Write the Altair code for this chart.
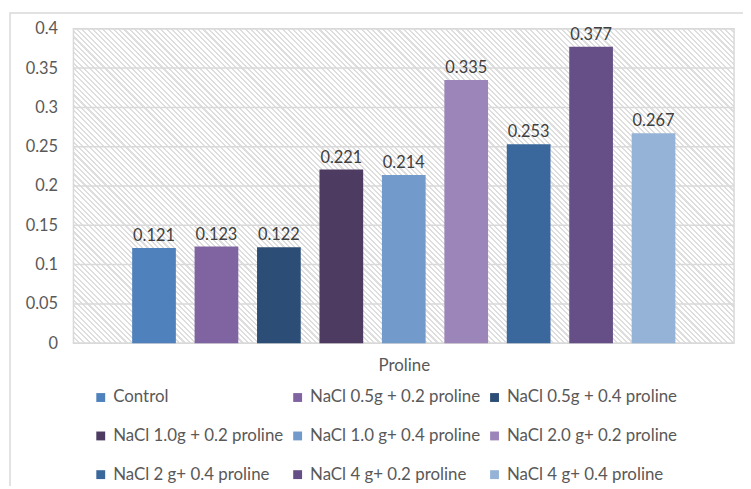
import altair as alt
import pandas as pd

series = [
    "Control",
    "NaCl 0.5g + 0.2 proline",
    "NaCl 0.5g + 0.4 proline",
    "NaCl 1.0g + 0.2 proline",
    "NaCl 1.0 g+ 0.4 proline",
    "NaCl 2.0 g+ 0.2 proline",
    "NaCl 2 g+ 0.4 proline",
    "NaCl 4 g+ 0.2 proline",
    "NaCl 4 g+ 0.4 proline",
]
values = [0.121, 0.123, 0.122, 0.221, 0.214, 0.335, 0.253, 0.377, 0.267]
colors = ["#4f81bd", "#8064a2", "#2c4d75", "#4d3b62", "#729aca",
          "#9c85b8", "#3a679c", "#664e86", "#95b3d7"]
y_ticks = [0, 0.05, 0.1, 0.15, 0.2, 0.25, 0.3, 0.35, 0.4]
category = "Proline"

W, H = 666, 317
FONT = "Lato"
GREY = "#d9d9d9"

df = pd.DataFrame({"series": series, "value": values})
grid_df = pd.DataFrame({"value": y_ticks})
one = pd.DataFrame({"k": [0]})

# diagonal hatch built from a striped linear gradient
N = 185
f = 0.4
hatch_col = "#dedede"
stops = []
for i in range(N):
    a = i / N
    b = (i + f) / N
    c = (i + 1) / N
    stops += [alt.GradientStop(offset=a, color=hatch_col),
              alt.GradientStop(offset=b, color=hatch_col),
              alt.GradientStop(offset=b, color="#ffffff"),
              alt.GradientStop(offset=c, color="#ffffff")]
r = H / W
t = (1 + r) / (1 + r * r)
hatch_grad = alt.LinearGradient(gradient="linear", stops=stops,
                                x1=0, y1=1, x2=t, y2=1 - r * t)

y_enc = alt.Y("value:Q", scale=alt.Scale(domain=[0, 0.4], nice=False),
              axis=alt.Axis(values=y_ticks, format="~g", grid=False, domain=False,
                            ticks=False, title=None, labelFont=FONT, labelFontSize=16.5,
                            labelColor="#595959", labelPadding=16))
x_enc = alt.X("series:N", sort=series,
              scale=alt.Scale(domain=series, paddingInner=0.3, paddingOuter=0.94),
              axis=alt.Axis(labels=False, ticks=False, domain=False, title=category,
                            titleFont=FONT, titleFontSize=17, titleColor="#595959",
                            titleFontWeight="normal", titlePadding=15))

outer = alt.Chart(one).mark_rect(fill=None, stroke=GREY, strokeWidth=1.5).encode(
    x=alt.value(-64), x2=alt.value(720), y=alt.value(-16), y2=alt.value(520))

hatch = alt.Chart(one).mark_rect(color=hatch_grad, stroke=GREY, strokeWidth=1.5).encode(
    x=alt.value(0), x2=alt.value(W), y=alt.value(0), y2=alt.value(H))

grid = alt.Chart(grid_df).mark_rule(color=GREY, strokeWidth=1.5).encode(y=y_enc)

bars = alt.Chart(df).mark_bar().encode(
    x=x_enc, y=y_enc,
    color=alt.Color("series:N", sort=series,
                    scale=alt.Scale(domain=series, range=colors),
                    legend=alt.Legend(orient="none", legendX=19, legendY=363,
                                      direction="horizontal", columns=3, title=None,
                                      symbolType="square", symbolSize=80,
                                      symbolStrokeWidth=0, labelFont=FONT,
                                      labelFontSize=17, labelColor="#595959",
                                      columnPadding=5.5, rowPadding=21, gridAlign="all",
                                      labelLimit=300, padding=0)))

labels = alt.Chart(df).mark_text(baseline="bottom", dy=-4, fontSize=16.5, font=FONT,
                                 color="#404040").encode(
    x=x_enc, y=y_enc, text=alt.Text("value:Q", format=".3f"))

chart = alt.layer(outer, hatch, grid, bars, labels).properties(
    width=W, height=H,
    autosize=alt.AutoSizeParams(type="none"),
    padding={"left": 66, "top": 19, "right": 9, "bottom": 142},
).configure_view(stroke=None)

chart.save("out.html", embed_options={"renderer": "svg", "actions": False})
